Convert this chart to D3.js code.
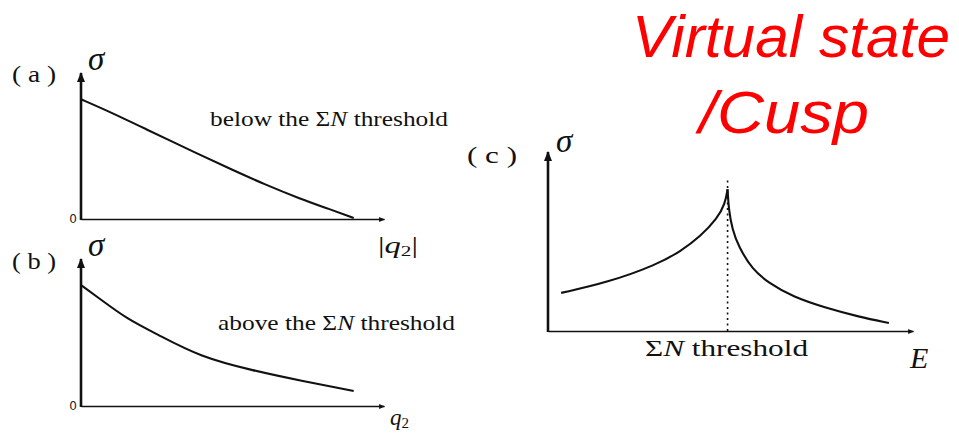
<!DOCTYPE html>
<html>
<head>
<meta charset="utf-8">
<script src="https://cdn.jsdelivr.net/npm/d3@7"></script>
<style>
  html, body { margin: 0; padding: 0; background: #fff; }
  svg { display: block; }
  .lbl { font-family: "Liberation Serif", "DejaVu Serif", serif; fill: #111; }
</style>
</head>
<body>
<svg id="chart" width="959" height="434"></svg>
<script>
// Panel (a): cross section below the ΣN threshold vs |q2|
const qA     = [0, 0.096, 0.2, 0.394, 0.5, 0.603, 0.725, 0.82, 0.9];
const sigmaA = [0.82, 0.733, 0.63, 0.438, 0.336, 0.24, 0.137, 0.068, 0.007];

// Panel (b): cross section above the ΣN threshold vs q2
const qB     = [0, 0.063, 0.152, 0.25, 0.394, 0.57, 0.725, 0.9];
const sigmaB = [0.823, 0.728, 0.592, 0.49, 0.333, 0.24, 0.172, 0.102];

// Panel (c): cross section vs energy, cusp at the ΣN threshold
const eThreshold = 0.492;
const eLeft      = [0.036, 0.162, 0.299, 0.363, 0.418, 0.464, 0.485, 0.492];
const sigmaLeft  = [0.213, 0.27, 0.371, 0.445, 0.53, 0.63, 0.71, 0.792];
const eRight     = [0.492, 0.495, 0.505, 0.522, 0.56, 0.604, 0.67, 0.761, 0.852, 0.934];
const sigmaRight = [0.792, 0.68, 0.567, 0.472, 0.343, 0.27, 0.191, 0.129, 0.079, 0.045];
const thresholdTop = 0.86;

// Text
const panelTags = ["( a )", "( b )", "( c )"];
const noteA = "below the ";
const noteB = "above the ";
const titleLines = ["Virtual state", "/Cusp"];

const svg = d3.select("#chart");

// arrowhead for axis ends
const defs = svg.append("defs");
defs.append("marker")
  .attr("id", "arrow")
  .attr("viewBox", "0 0 10 10")
  .attr("refX", 9).attr("refY", 5)
  .attr("markerWidth", 4).attr("markerHeight", 4)
  .attr("orient", "auto")
  .append("path").attr("d", "M0,1 L10,5 L0,9 Z").attr("fill", "#111");

function zip(xs, ys) { return xs.map((x, i) => ({ x, y: ys[i] })); }

function panel(cfg) {
  const x = d3.scaleLinear().domain([0, 1]).range(cfg.xr);
  const y = d3.scaleLinear().domain([0, 1]).range(cfg.yr);
  const g = svg.append("g");

  // x axis line with arrow
  const xa = g.append("g").attr("transform", `translate(0,${y(0)})`)
    .call(d3.axisBottom(x).tickValues([]).tickSizeOuter(0));
  xa.select(".domain").attr("stroke", "#111").attr("stroke-width", 1.5)
    .attr("marker-end", "url(#arrow)");

  // y axis line with arrow
  const ya = g.append("g").attr("transform", `translate(${x(0)},0)`)
    .call(d3.axisLeft(y).tickValues(cfg.zero ? [0] : []).tickSize(0).tickPadding(4)
      .tickFormat(() => "0"));
  ya.select(".domain").attr("stroke", "#111").attr("stroke-width", 2.6)
    .attr("d", `M0,${y(0) + 1}V${y(1)}`)
    .attr("marker-end", "url(#arrow)");
  ya.selectAll(".tick text")
    .attr("font-family", "DejaVu Sans, sans-serif")
    .attr("font-size", 12).attr("fill", "#222");

  const line = d3.line().x(d => x(d.x)).y(d => y(d.y)).curve(d3.curveBasis);
  cfg.series.forEach(s => {
    g.append("path").datum(s).attr("d", line)
      .attr("fill", "none").attr("stroke", "#111").attr("stroke-width", 2.1);
  });
  return { g, x, y };
}

// ---- (a)
const pa = panel({ xr: [81, 384], yr: [219, 73], zero: true, series: [zip(qA, sigmaA)] });
// ---- (b)
const pb = panel({ xr: [81, 384], yr: [406, 259], zero: true, series: [zip(qB, sigmaB)] });
// ---- (c)
const pc = panel({ xr: [548, 913], yr: [331, 152], zero: false,
  series: [zip(eLeft, sigmaLeft), zip(eRight, sigmaRight)] });

// dotted threshold line
pc.g.append("line")
  .attr("x1", pc.x(eThreshold)).attr("x2", pc.x(eThreshold))
  .attr("y1", pc.y(0)).attr("y2", pc.y(thresholdTop))
  .attr("stroke", "#111").attr("stroke-width", 1.6)
  .attr("stroke-dasharray", "2,3.5");

function txt(x, y, size, parts, opts = {}) {
  const t = svg.append("text").attr("class", "lbl")
    .attr("x", x).attr("y", y).attr("font-size", size);
  if (opts.len) t.attr("textLength", opts.len).attr("lengthAdjust", "spacingAndGlyphs");
  parts.forEach(p => {
    const s = t.append("tspan").text(p.t);
    if (p.i) s.attr("font-style", "italic");
    if (p.dy) s.attr("dy", p.dy);
    if (p.fs) s.attr("font-size", p.fs);
  });
  return t;
}

// panel tags
txt(12, 82, 24, [{ t: panelTags[0] }], { len: 44 });
txt(12, 269, 24, [{ t: panelTags[1] }], { len: 44 });
txt(467, 163, 24, [{ t: panelTags[2] }], { len: 50 });

// sigma axis titles
txt(88, 70, 33, [{ t: "σ", i: true }]);
txt(88, 256, 33, [{ t: "σ", i: true }]);
txt(556, 152, 33, [{ t: "σ", i: true }]);

// annotations
txt(210, 126, 21, [{ t: noteA }, { t: "Σ" }, { t: "N", i: true }, { t: " threshold" }], { len: 238 });
txt(218, 330, 21, [{ t: noteB }, { t: "Σ" }, { t: "N", i: true }, { t: " threshold" }], { len: 237 });

// x axis titles
txt(378, 253, 23, [{ t: "|" }, { t: "q", i: true }, { t: "2", fs: 15, dy: 3 }, { t: "|", dy: -3 }], { len: 40 });
txt(390, 425, 23, [{ t: "q", i: true }, { t: "2", fs: 15, dy: 3 }]);
txt(645, 356, 23, [{ t: "Σ" }, { t: "N", i: true }, { t: " threshold" }], { len: 163 });
txt(910, 368, 30, [{ t: "E", i: true }]);

// red heading
const head = svg.append("g")
  .attr("font-family", "Liberation Sans, Arial, sans-serif")
  .attr("font-style", "italic").attr("fill", "#ff0000").attr("font-size", 60);
head.append("text").attr("x", 632).attr("y", 57).attr("textLength", 318)
  .attr("lengthAdjust", "spacingAndGlyphs").text(titleLines[0]);
head.append("text").attr("x", 699).attr("y", 133).attr("textLength", 170)
  .attr("lengthAdjust", "spacingAndGlyphs").text(titleLines[1]);
</script>
</body>
</html>
